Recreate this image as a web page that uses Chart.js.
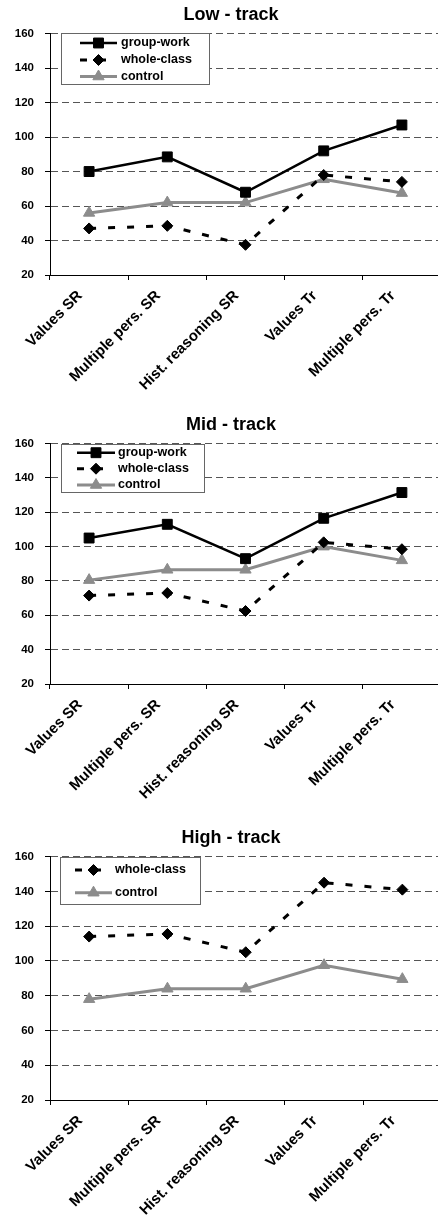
<!DOCTYPE html>
<html>
<head>
<meta charset="utf-8">
<script src="https://cdn.jsdelivr.net/npm/chart.js@4/dist/chart.umd.min.js"></script>
<style>
  body { margin: 0; width: 438px; height: 1222px; overflow: hidden; background: #fff; position: relative; }
  .panel { position: absolute; left: 0; width: 449px; height: 399px; }
</style>
</head>
<body>
<div class="panel" style="top:0px"><canvas id="lowChart"></canvas></div>
<div class="panel" style="top:410px"><canvas id="midChart"></canvas></div>
<div class="panel" style="top:823px"><canvas id="highChart"></canvas></div>
<script>
// Data
const categories = ['Values SR', 'Multiple pers. SR', 'Hist. reasoning SR', 'Values Tr', 'Multiple pers. Tr'];

const lowGroupWork = [80, 88.5, 68, 92, 107];
const lowWholeClass = [47, 48.5, 37.5, 78, 74];
const lowControl = [56, 62, 62, 75.5, 67.5];

const midGroupWork = [105, 113, 93, 116.5, 131.5];
const midWholeClass = [71.5, 73, 62.5, 102.5, 98.5];
const midControl = [80.5, 86.5, 86.5, 100, 92];

const highWholeClass = [114, 115.5, 105, 145, 141];
const highControl = [78, 84, 84, 97.5, 89.5];

const yMin = 20;
const yMax = 160;
const yStep = 20;

const FONT = '"Liberation Sans", Arial, sans-serif';

// series styles
function groupWork(data) {
    return {
        label: 'group-work', data: data,
        borderColor: '#000', backgroundColor: '#000', borderWidth: 2.5,
        pointStyle: 'rect', pointRadius: 7, pointBackgroundColor: '#000', pointBorderColor: '#000', pointBorderWidth: 1
    };
}
function wholeClass(data) {
    return {
        label: 'whole-class', data: data,
        borderColor: '#000', backgroundColor: '#000', borderWidth: 3, borderDash: [7, 12],
        pointStyle: 'rectRot', pointRadius: 5.5, pointBackgroundColor: '#000', pointBorderColor: '#000', pointBorderWidth: 1
    };
}
function control(data) {
    return {
        label: 'control', data: data,
        borderColor: '#8c8c8c', backgroundColor: '#8c8c8c', borderWidth: 3,
        pointStyle: 'triangle', pointRadius: 6.5, pointBackgroundColor: '#8c8c8c', pointBorderColor: '#8c8c8c', pointBorderWidth: 1
    };
}

// legend box drawn inside the plot area, like the original
const boxLegend = {
    id: 'boxLegend',
    afterDraw(chart, args, opts) {
        const ctx = chart.ctx;
        const area = chart.chartArea;
        const x0 = Math.round(area.left + opts.left);
        const y0 = Math.round(area.top + opts.top);
        ctx.save();
        ctx.fillStyle = '#fff';
        ctx.fillRect(x0, y0, opts.width, opts.height);
        ctx.strokeStyle = '#666';
        ctx.lineWidth = 1;
        ctx.strokeRect(x0 + 0.5, y0 + 0.5, opts.width, opts.height);
        chart.data.datasets.forEach(function(ds, i) {
            const y = y0 + opts.rows[i];
            ctx.save();
            ctx.strokeStyle = ds.borderColor;
            ctx.lineWidth = ds.borderWidth;
            ctx.setLineDash(ds.borderDash || []);
            ctx.beginPath();
            ctx.moveTo(x0 + opts.lineStart, y);
            ctx.lineTo(x0 + opts.lineEnd, y);
            ctx.stroke();
            ctx.restore();
            ctx.fillStyle = ds.pointBackgroundColor;
            ctx.strokeStyle = ds.pointBorderColor;
            ctx.lineWidth = 1;
            Chart.helpers.drawPoint(ctx, {
                pointStyle: ds.pointStyle, radius: ds.pointRadius, rotation: 0, borderWidth: 1
            }, x0 + (opts.lineStart + opts.lineEnd) / 2, y);
            ctx.fillStyle = '#000';
            ctx.font = 'bold 12.5px ' + FONT;
            ctx.textBaseline = 'middle';
            ctx.textAlign = 'left';
            ctx.fillText(ds.label, x0 + opts.textX, y);
        });
        ctx.restore();
    }
};

function makeChart(id, title, datasets, legend, axisHeight) {
    const ctx = document.getElementById(id).getContext('2d');
    return new Chart(ctx, {
        type: 'line',
        data: { labels: categories, datasets: datasets },
        plugins: [boxLegend],
        options: {
            responsive: true,
            maintainAspectRatio: false,
            animation: false,
            devicePixelRatio: 1,
            layout: { padding: { top: 1, left: 13, right: 0, bottom: 0 } },
            elements: { line: { tension: 0 } },
            plugins: {
                legend: { display: false },
                tooltip: { enabled: false },
                title: {
                    display: true, text: title, color: '#000',
                    font: { family: FONT, size: 18, weight: 'bold' },
                    padding: { top: 3, bottom: 8 }
                },
                boxLegend: legend
            },
            scales: {
                x: {
                    offset: true,
                    grid: { display: true, drawOnChartArea: false, drawTicks: true, tickLength: 5, color: '#000', offset: true },
                    border: { display: true, color: '#000', width: 1 },
                    ticks: {
                        color: '#000', font: { family: FONT, size: 15, weight: 'bold' },
                        minRotation: 45, maxRotation: 45, autoSkip: false, padding: 7, labelOffset: -9
                    },
                    afterFit: function(scale) { scale.height = axisHeight; }
                },
                y: {
                    min: yMin, max: yMax,
                    grid: { color: '#555', lineWidth: 1, tickLength: 5, tickColor: '#000', tickBorderDash: [] },
                    border: { display: true, color: '#000', width: 1, dash: [7, 4] },
                    ticks: {
                        stepSize: yStep, color: '#000', padding: 11,
                        font: { family: FONT, size: 11.5, weight: 'bold' }
                    },
                    afterFit: function(scale) { scale.width = 37; }
                }
            }
        }
    });
}

makeChart('lowChart', 'Low - track',
    [groupWork(lowGroupWork), wholeClass(lowWholeClass), control(lowControl)],
    { left: 11, top: -1, width: 148, height: 51, rows: [10, 27, 43.5], lineStart: 19, lineEnd: 56, textX: 60 }, 124);

makeChart('midChart', 'Mid - track',
    [groupWork(midGroupWork), wholeClass(midWholeClass), control(midControl)],
    { left: 11, top: 0, width: 143, height: 48, rows: [8.7, 24.7, 41], lineStart: 16, lineEnd: 54, textX: 57 }, 125);

makeChart('highChart', 'High - track',
    [wholeClass(highWholeClass), control(highControl)],
    { left: 10, top: 0, width: 140, height: 47, rows: [13, 35.7], lineStart: 15, lineEnd: 52, textX: 55 }, 122);
</script>
</body>
</html>
